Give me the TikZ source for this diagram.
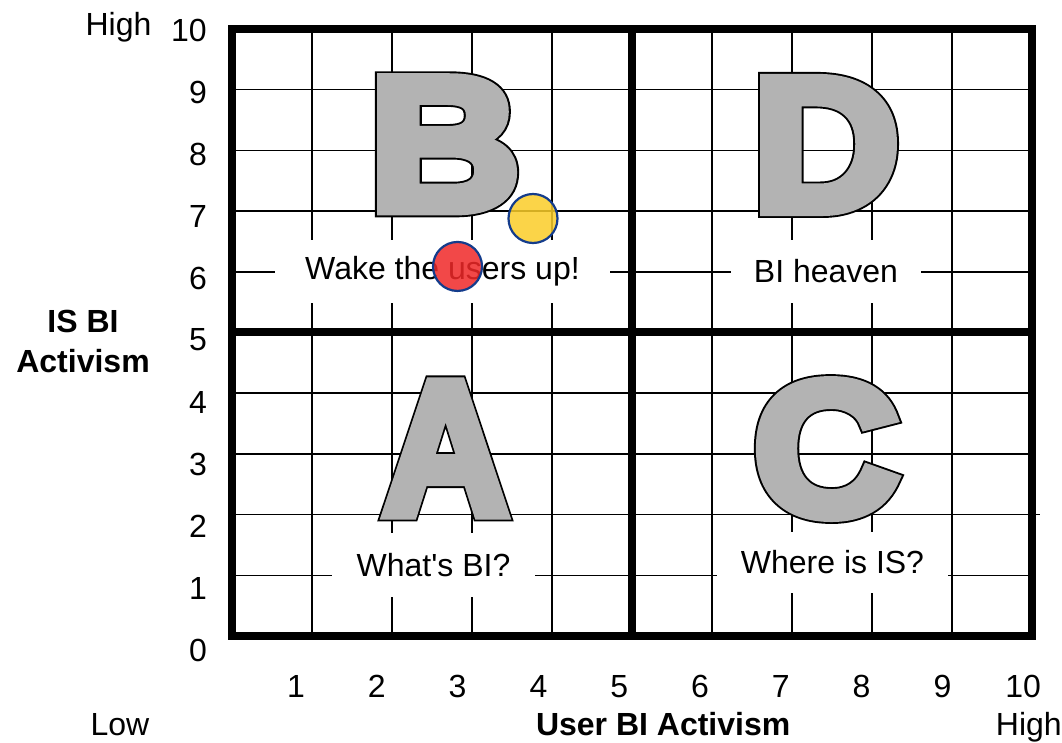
\documentclass[tikz,border=0pt]{standalone}
\usepackage{graphicx}
\usepackage{fontspec}
\setmainfont{Liberation Sans}
\newfontfamily\letterback{Liberation Sans Bold}[FakeBold=8]
\newfontfamily\letterfront{Liberation Sans Bold}[FakeBold=6]
\definecolor{lettergray}{RGB}{179,179,179}
\definecolor{dotyellow}{RGB}{250,205,40}
\definecolor{dotred}{RGB}{240,40,40}
\definecolor{dotrim}{RGB}{20,60,140}
\newcommand{\quadletter}[2]{\scalebox{#1}[1]{\rlap{\letterback\color{black}#2}\letterfront\color{lettergray}#2}}
\begin{document}
\begin{tikzpicture}[
  x=80pt, y=60.7pt,
  every node/.style={font=\fontsize{32}{40}\selectfont, inner sep=0pt},
  thin grid/.style={line width=1.6pt},
  thick grid/.style={line width=8pt},
  gap label/.style={fill=white},
  axis title/.style={font=\fontsize{32}{40}\selectfont\bfseries},
  big letter/.style={font=\fontsize{190}{190}\selectfont},
  dot/.style={circle, minimum size=49pt, draw=dotrim, line width=2.2pt, fill opacity=0.85}
]
\useasboundingbox (-2.9,-1.7463) rectangle (10.375,10.4778);
\foreach \i in {1,...,4,6,7,8,9} {
  \draw[thin grid] (\i,0) -- (\i,10);
  \draw[thin grid] (0,\i) -- (10,\i);
}
\draw[thin grid] (10,2) -- (10.1,2);
\node[gap label, minimum width=335pt, minimum height=63pt] (wake) at (2.631,6.005) {Wake the users up!};
\node[gap label, minimum width=190pt, minimum height=63pt] (heaven) at (7.425,6.005) {BI heaven};
\node[gap label, minimum width=203pt, minimum height=64pt] (whatbi) at (2.519,1.170) {What\textquotesingle s BI?};
\node[gap label, minimum width=231pt, minimum height=61pt] (whereis) at (7.506,1.211) {Where is IS?};
\node[big letter] (B) at (2.66,8.1) {\quadletter{1.1}{B}};
\node[big letter] (D) at (7.425,8.09) {\quadletter{1.07}{D}};
\node[big letter] (A) at (2.67,3.09) {\quadletter{0.915}{A}};
\node[big letter] (C) at (7.43,3.08) {\quadletter{1.06}{C}};
\draw[thick grid] (0,0) rectangle (10,10);
\draw[thick grid] (5,0) -- (5,10);
\draw[thick grid] (0,5) -- (10,5);
\node[dot, fill=dotyellow] (yellow) at (3.7625,6.878) {};
\node[dot, fill=dotred] (red) at (2.819,6.088) {};
\foreach \i in {0,...,10}
  \node[anchor=east] (ytick\i) at (-0.3125,{(62*\i-14)/60.7}) {\i};
\foreach \i in {1,...,10}
  \node (xtick\i) at ({(80.8*\i-16.8)/80},-0.832) {\i};
\node[anchor=base] (hightop) at (-1.419,9.901) {High};
\node[anchor=base] (low) at (-1.4,-1.647) {Low};
\node[anchor=base, axis title] (xtitle) at (5.39,-1.647) {User BI Activism};
\node[anchor=base] (highright) at (9.96,-1.647) {High};
\node[align=center, axis title] (ytitle) at (-1.862,4.86) {IS BI\\Activism};
\end{tikzpicture}
\end{document}
